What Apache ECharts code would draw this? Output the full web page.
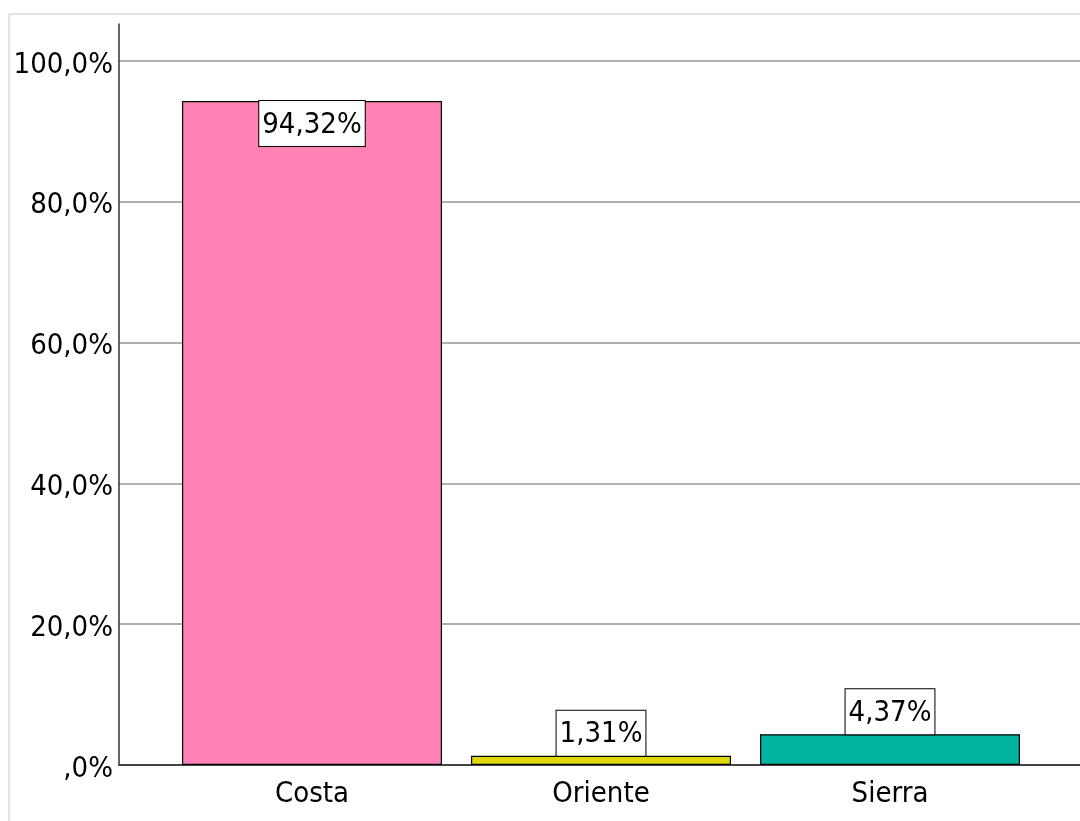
<!DOCTYPE html>
<html>
<head>
<meta charset="utf-8">
<script src="https://cdn.jsdelivr.net/npm/echarts@6/dist/echarts.min.js"></script>
<style>
html,body{margin:0;padding:0;background:#fff;}
#chart{width:1080px;height:821px;}
</style>
</head>
<body>
<div id="chart"></div>
<script>
const categories = ['Costa', 'Oriente', 'Sierra'];
const values = [94.32, 1.31, 4.37];
const colors = ['#fe82b3', '#e0d60a', '#00b4a0'];
const labelPositions = ['insideTop', 'top', 'top'];
const yTicks = [0, 20, 40, 60, 80, 100];

const FONT = '"Liberation Sans Narrow", "Arial Narrow", "DejaVu Sans Condensed", "Liberation Sans", Arial, sans-serif';

function pct1(v){ return (v === 0 ? ',0' : v.toFixed(1).replace('.', ',')) + '%'; }
function pct2(v){ return v.toFixed(2).replace('.', ',') + '%'; }

const chart = echarts.init(document.getElementById('chart'), null, {renderer: 'canvas'});

const frameLine = {show: true, onZero: false, lineStyle: {color: '#e4e4e4', width: 2}};

const option = {
  backgroundColor: '#ffffff',
  animation: false,
  grid: [
    {left: 119, right: 0, top: 24, bottom: 56},
    {left: 119, right: 0, top: 61, bottom: 56},
    {left: 167.5, right: 45.5, top: 61, bottom: 56},
    {left: 9, right: 0, top: 14, bottom: 0}
  ],
  xAxis: [
    {gridIndex: 0, type: 'value', min: 0, max: 1,
     axisLine: {show: true, onZero: false, lineStyle: {color: '#444', width: 2}},
     axisTick: {show: false}, axisLabel: {show: false}, splitLine: {show: false}},
    {gridIndex: 1, type: 'value', min: 0, max: 1, show: false},
    {gridIndex: 2, type: 'category', data: categories,
     axisLine: {show: false}, axisTick: {show: false},
     axisLabel: {color: '#000', fontSize: 29, fontFamily: FONT, margin: 15}},
    {gridIndex: 3, type: 'value', position: 'top', min: 0, max: 1,
     axisLine: frameLine, axisTick: {show: false}, axisLabel: {show: false}, splitLine: {show: false}}
  ],
  yAxis: [
    {gridIndex: 0, type: 'value', min: 0, max: 105.26,
     axisLine: {show: true, lineStyle: {color: '#333', width: 1.5}},
     axisTick: {show: false}, axisLabel: {show: false}, splitLine: {show: false}},
    {gridIndex: 1, type: 'value', min: yTicks[0], max: yTicks[yTicks.length - 1], interval: 20,
     axisLine: {show: false}, axisTick: {show: false},
     axisLabel: {
       color: '#000', fontSize: 29, fontFamily: FONT, margin: 6,
       formatter: v => '{a|' + pct1(v) + '}',
       rich: {a: {color: '#000', fontSize: 29, fontFamily: FONT, padding: [8, 0, 0, 0]}}
     },
     splitLine: {show: true, lineStyle: {color: '#b0b0b0', width: 2}}},
    {gridIndex: 2, type: 'value', min: 0, max: 100, show: false},
    {gridIndex: 3, type: 'value', position: 'left', min: 0, max: 1,
     axisLine: frameLine, axisTick: {show: false}, axisLabel: {show: false}, splitLine: {show: false}}
  ],
  series: [{
    type: 'bar',
    xAxisIndex: 2,
    yAxisIndex: 2,
    barWidth: 260,
    z: 5,
    data: values.map((v, i) => ({
      value: v,
      itemStyle: {color: colors[i], borderColor: '#000', borderWidth: 1.2},
      label: {position: labelPositions[i]}
    })),
    label: {
      show: true,
      distance: 0,
      formatter: p => pct2(p.value),
      color: '#000',
      fontSize: 29,
      lineHeight: 36,
      fontFamily: FONT,
      backgroundColor: '#fff',
      borderColor: '#000',
      borderWidth: 1,
      padding: [6, 3, 3, 3]
    }
  }]
};
chart.setOption(option);
</script>
</body>
</html>
